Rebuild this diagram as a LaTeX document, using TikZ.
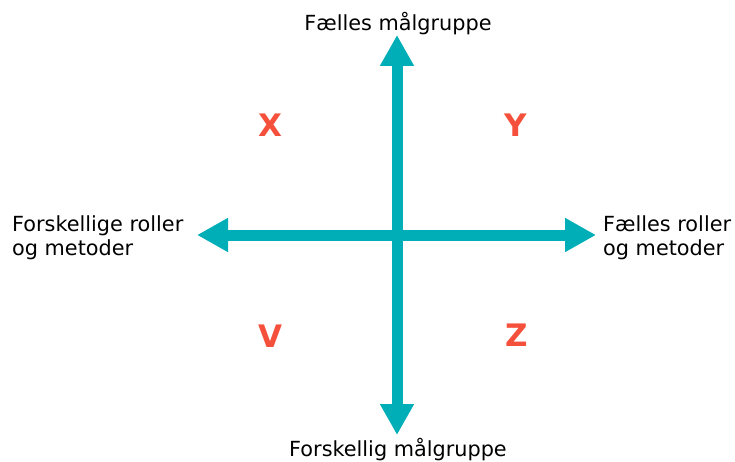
\documentclass[tikz,border=0pt]{standalone}
\usepackage{fontspec}
\setmainfont{DejaVu Sans}
\usetikzlibrary{arrows.meta}
\definecolor{axisteal}{RGB}{0,174,184}
\definecolor{quadred}{RGB}{245,80,60}
\begin{document}
\begin{tikzpicture}[x=1pt,y=-1pt,
  axis/.style={draw=axisteal,line width=11pt,-{Triangle[width=32pt,length=31pt]}},
  axislabel/.style={inner sep=0pt,font=\fontsize{20.8}{24}\selectfont},
  quad/.style={inner sep=0pt,text=quadred,font=\fontsize{31}{31}\selectfont\bfseries}]
\useasboundingbox (0,0) rectangle (735,462);
\coordinate (c) at (397,235);
\coordinate (top) at (397,35);
\coordinate (bot) at (397,435);
\coordinate (lft) at (197,235);
\coordinate (rgt) at (596,235);
\draw[axis] (c) -- (top);
\draw[axis] (c) -- (bot);
\draw[axis] (c) -- (lft);
\draw[axis] (c) -- (rgt);
\node[axislabel,anchor=base] (tl) at (398,30.7) {Fælles målgruppe};
\node[axislabel,anchor=base] (bl) at (398,456) {Forskellig målgruppe};
\node[axislabel,anchor=base west,align=left] (ll) at (12,255.7) {Forskellige roller\\og metoder};
\node[axislabel,anchor=base west,align=left] (rl) at (603,255.7) {Fælles roller\\og metoder};
\node[quad] (qx) at (270,125) {X};
\node[quad] (qy) at (516,125) {Y};
\node[quad] (qv) at (270,336) {V};
\node[quad] (qz) at (517,335) {Z};
\end{tikzpicture}
\end{document}
